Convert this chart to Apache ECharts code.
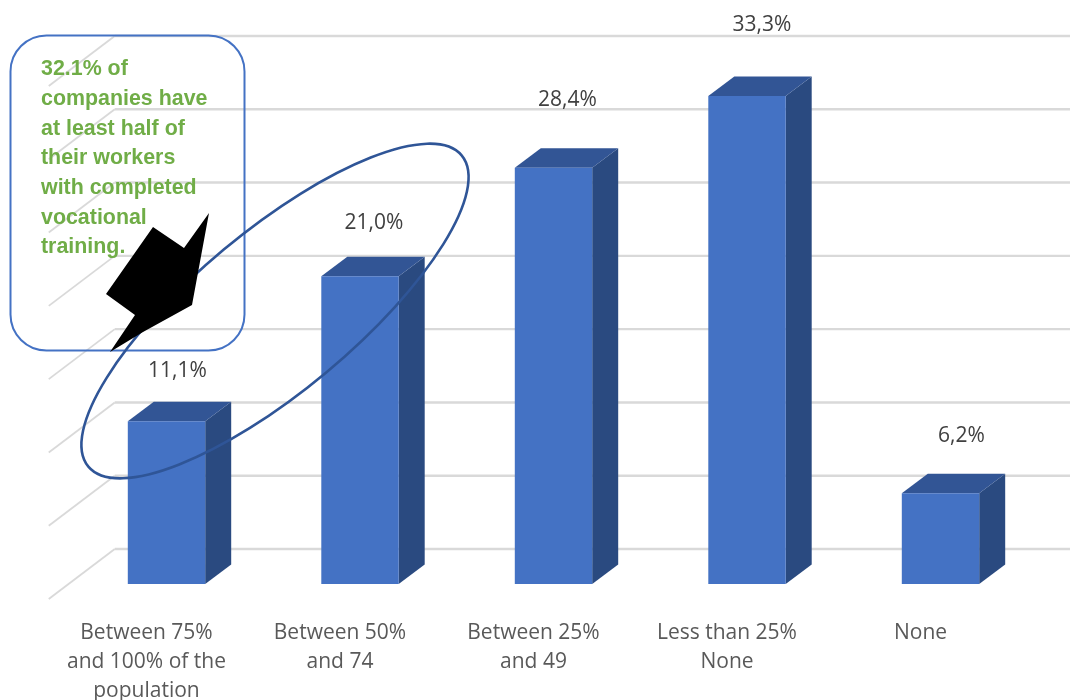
<!DOCTYPE html>
<html>
<head>
<meta charset="utf-8">
<style>html,body{margin:0;padding:0;background:#fff}#chart{width:1070px;height:700px}</style>
<script src="https://cdn.jsdelivr.net/npm/echarts@6/dist/echarts.min.js"></script>
</head>
<body>
<div id="chart"></div>
<script>
// Share of companies by proportion of workers with completed vocational training
const categories = [
  'Between 75%\nand 100% of the\npopulation',
  'Between 50%\nand 74',
  'Between 25%\nand 49',
  'Less than 25%\nNone',
  'None'
];
const shares = [11.1, 21.0, 28.4, 33.3, 6.2];
const gridValues = [0, 5, 10, 15, 20, 25, 30, 35];
const calloutText = '32.1% of\ncompanies have\nat least half of\ntheir workers\nwith completed\nvocational\ntraining.';

// Hand-placed value labels: horizontal shift from the bar centre, lift above its top
const labelShiftX = [11, 14, 14, 15, 21];
const labelLift = [50, 53, 68, 71, 57];

// Extrusion of the boxes and of the floor/wall grid
const DEPTH_X = 26, DEPTH_Y = 19.5;
const FRONT_DROP = 15, BACK_RISE = 35;

function renderFloorLine(params, api) {
  const y = api.coord([0, api.value(0)])[1];
  const cs = params.coordSys;
  return {
    type: 'line',
    shape: { x1: cs.x - 21, y1: y + FRONT_DROP, x2: cs.x + 45, y2: y - BACK_RISE },
    style: { stroke: '#d9d9d9', lineWidth: 1.8 },
    silent: true
  };
}

function renderWallLine(params, api) {
  const y = api.coord([0, api.value(0)])[1];
  const cs = params.coordSys;
  return {
    type: 'line',
    shape: { x1: cs.x + 45, y1: y - BACK_RISE, x2: cs.x + cs.width + 33, y2: y - BACK_RISE },
    style: { stroke: '#d9d9d9', lineWidth: 2.4 },
    silent: true
  };
}

function renderBox(params, api) {
  const i = api.value(0);
  const top = api.coord([i, api.value(1)]);
  const base = api.coord([i, 0]);
  const half = api.size([1, 0])[0] * 0.4 / 2;
  const l = top[0] - half, r = top[0] + half, t = top[1], b = base[1];
  return {
    type: 'group',
    children: [
      { type: 'polygon',
        shape: { points: [[r, t], [r + DEPTH_X, t - DEPTH_Y], [r + DEPTH_X, b - DEPTH_Y], [r, b]] },
        style: { fill: '#2a4a80' } },
      { type: 'polygon',
        shape: { points: [[l, t], [l + DEPTH_X, t - DEPTH_Y], [r + DEPTH_X, t - DEPTH_Y], [r, t]] },
        style: { fill: '#325595' } },
      { type: 'rect',
        shape: { x: l, y: t, width: r - l, height: b - t },
        style: { fill: '#4472c4' } },
      { type: 'text',
        x: top[0] + labelShiftX[i],
        y: t - labelLift[i],
        style: {
          text: api.value(1).toFixed(1).replace('.', ',') + '%',
          fill: '#404040',
          font: '21px "Open Sans"',
          align: 'center',
          verticalAlign: 'middle'
        } }
    ]
  };
}

const chart = echarts.init(document.getElementById('chart'), null, { renderer: 'canvas' });
chart.setOption({
  animation: false,
  backgroundColor: '#ffffff',
  grid: { left: 69.75, right: 32.75, top: 71, bottom: 116, outerBoundsMode: 'none' },
  xAxis: {
    type: 'category',
    data: categories,
    axisLine: { show: false },
    axisTick: { show: false },
    axisLabel: {
      interval: 0,
      margin: 34.5,
      color: '#595959',
      fontFamily: 'Open Sans',
      fontSize: 21,
      lineHeight: 29,
      align: 'center',
      padding: [0, 40, 0, 0]
    }
  },
  yAxis: { type: 'value', min: 0, max: 35, interval: 5, show: false },
  series: [
    { type: 'custom', coordinateSystem: 'cartesian2d', clip: false, z: 1,
      encode: { y: 0 }, data: gridValues.map(v => [v]), renderItem: renderFloorLine },
    { type: 'custom', coordinateSystem: 'cartesian2d', clip: false, z: 1,
      encode: { y: 0 }, data: gridValues.map(v => [v]), renderItem: renderWallLine },
    { type: 'custom', coordinateSystem: 'cartesian2d', clip: false, z: 2,
      encode: { x: 0, y: 1 }, data: shares.map((v, i) => [i, v]), renderItem: renderBox }
  ],
  graphic: [
    { type: 'rect', z: 10, silent: true,
      shape: { x: 10.5, y: 35.5, width: 234, height: 315, r: 36 },
      style: { fill: 'none', stroke: '#4472c4', lineWidth: 2 } },
    { type: 'text', z: 11, silent: true, x: 41, y: 54.5,
      style: { text: calloutText, fill: '#70ad47', font: 'bold 21.4px "Liberation Sans"', lineHeight: 29.7 } },
    { type: 'ellipse', z: 12, silent: true, x: 275, y: 311, rotation: 0.695,
      shape: { cx: 0, cy: 0, rx: 243, ry: 80 },
      style: { fill: 'none', stroke: '#2f5597', lineWidth: 2.6 } },
    { type: 'polygon', z: 13, silent: true,
      shape: { points: [[209, 213], [184, 248], [153, 227], [106, 294], [135, 315], [110, 352], [143, 332], [192, 305]] },
      style: { fill: '#000000' } }
  ]
});
</script>
</body>
</html>
